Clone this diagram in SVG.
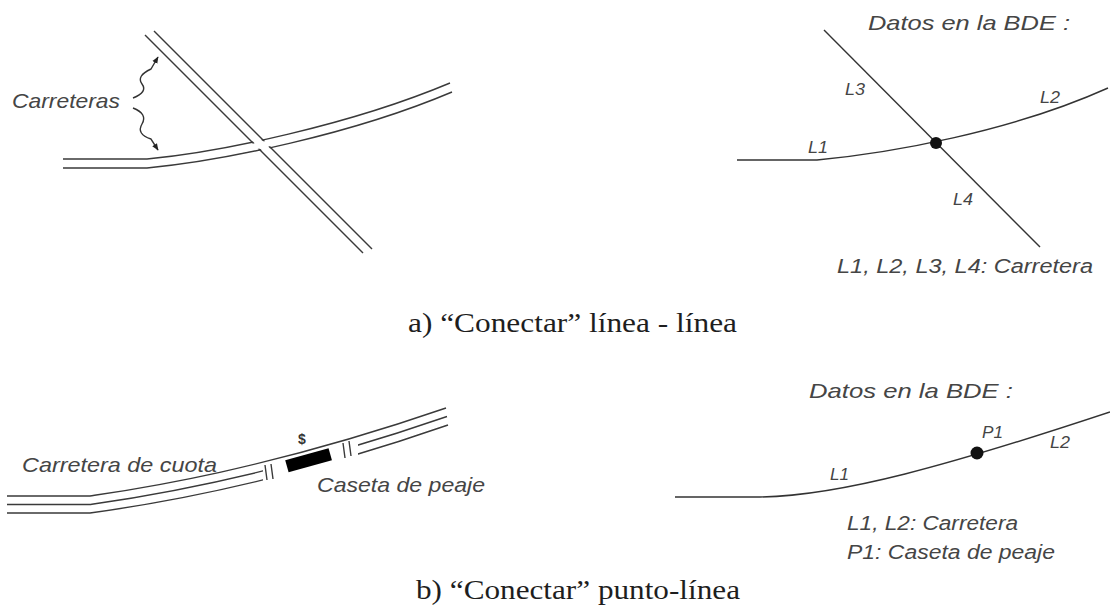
<svg xmlns="http://www.w3.org/2000/svg" width="1110" height="610" viewBox="0 0 1110 610">
  <style>
    .road { fill: none; stroke: #3a3a3a; stroke-width: 1.4; }
    .thin { fill: none; stroke: #333; stroke-width: 1.4; }
    .cut { fill: none; stroke: #fff; }
    .lbl { font-family: "Liberation Sans", Arial, sans-serif; font-style: italic; fill: #454545; }
    .cap { font-family: "Liberation Serif", "Times New Roman", serif; fill: #1e1e1e; font-size: 27px; }
  </style>
  <defs>
    <marker id="ah" viewBox="0 0 10 10" refX="9" refY="5" markerWidth="7" markerHeight="7" orient="auto" markerUnits="userSpaceOnUse">
      <path d="M0,1 L10,5 L0,9 Z" fill="#222"/>
    </marker>
    <clipPath id="crossClip"><rect x="238" y="120" width="55" height="45"/></clipPath>
    <clipPath id="gapClip">
      <rect x="0" y="380" width="263" height="150"/>
      <rect x="358" y="380" width="200" height="150"/>
    </clipPath>
  </defs>
  <rect width="1110" height="610" fill="#fff"/>

  <!-- a) left: roads -->
  <g id="roads-a">
    <path class="road" d="M63,159 L147,159 C220,152 350,125 450,83"/>
    <path class="road" d="M63,168 L147,168 C222,161 353,134 452,92"/>
    <path class="cut" stroke-width="7" d="M149.5,33 L367.5,251"/>
    <path class="road" d="M145,35 L363,253"/>
    <path class="road" d="M154,31 L372,249"/>
    <path class="cut" stroke-width="6" clip-path="url(#crossClip)" d="M63,163.5 L147,163.5 C221,156.5 351.5,129.5 451,87.5"/>
  </g>
  <g id="label-carreteras">
    <text class="lbl" x="12" y="108" font-size="21" textLength="108" lengthAdjust="spacingAndGlyphs">Carreteras</text>
  </g>
  <g id="connectors">
    <path class="thin" stroke-width="1.2" marker-end="url(#ah)" d="M133,98 Q148,92 142,84 T151,69 L158,57"/>
    <path class="thin" stroke-width="1.2" marker-end="url(#ah)" d="M133,108 Q148,114 142,124 T151,139 L158,150"/>
  </g>

  <!-- a) right: data -->
  <g id="bde-a">
    <text class="lbl" x="868" y="30" font-size="21" textLength="202" lengthAdjust="spacingAndGlyphs">Datos en la BDE :</text>
    <path class="thin" d="M824,30 L1040,247"/>
    <path class="thin" d="M737,160 L817,160 C890,153 1010,132 1108,88"/>
    <circle cx="936" cy="143" r="6" fill="#111"/>
    <text class="lbl" x="845" y="95" font-size="17" textLength="20" lengthAdjust="spacingAndGlyphs">L3</text>
    <text class="lbl" x="1040" y="103" font-size="17" textLength="20" lengthAdjust="spacingAndGlyphs">L2</text>
    <text class="lbl" x="808" y="153" font-size="17" textLength="20" lengthAdjust="spacingAndGlyphs">L1</text>
    <text class="lbl" x="953" y="205" font-size="17" textLength="20" lengthAdjust="spacingAndGlyphs">L4</text>
    <text class="lbl" x="837" y="273" font-size="20" textLength="256" lengthAdjust="spacingAndGlyphs">L1, L2, L3, L4: Carretera</text>
  </g>
  <g id="caption-a">
    <text class="cap" x="408" y="332" textLength="329" lengthAdjust="spacingAndGlyphs">a) “Conectar” línea - línea</text>
  </g>

  <!-- b) left: toll road -->
  <g id="toll-road">
    <path class="road" d="M7,496 L90,496 C130,490 260,472 446,408"/>
    <g clip-path="url(#gapClip)">
      <path class="road" d="M7,504.5 L90,504.5 C132,498.5 262,480.5 447,416.5"/>
      <path class="road" d="M7,513 L90,513 C134,507 264,489 448,425"/>
    </g>
    <path class="road" d="M265,465 L267,480 M271,464 L273,479"/>
    <path class="road" d="M343,443 L345,458 M349,441 L351,456"/>
  </g>
  <g id="booth">
    <rect x="286" y="454" width="45" height="12.5" fill="#000" transform="rotate(-15.6 308.5 460)"/>
    <text x="302" y="444" font-family="Liberation Sans, Arial, sans-serif" font-weight="bold" font-size="14" fill="#333" text-anchor="middle">$</text>
  </g>
  <g id="label-cuota">
    <text class="lbl" x="22" y="472" font-size="21" textLength="195" lengthAdjust="spacingAndGlyphs">Carretera de cuota</text>
  </g>
  <g id="label-caseta">
    <text class="lbl" x="317" y="492" font-size="21" textLength="168" lengthAdjust="spacingAndGlyphs">Caseta de peaje</text>
  </g>

  <!-- b) right: data -->
  <g id="bde-b">
    <text class="lbl" x="809" y="398" font-size="21" textLength="204" lengthAdjust="spacingAndGlyphs">Datos en la BDE :</text>
    <path class="thin" d="M675,497 L760,497 C840,496 950,465 1110,412"/>
    <circle cx="977" cy="453" r="6.5" fill="#111"/>
    <text class="lbl" x="830" y="480" font-size="17" textLength="19" lengthAdjust="spacingAndGlyphs">L1</text>
    <text class="lbl" x="982" y="438" font-size="17" textLength="21" lengthAdjust="spacingAndGlyphs">P1</text>
    <text class="lbl" x="1050" y="448" font-size="17" textLength="20" lengthAdjust="spacingAndGlyphs">L2</text>
    <text class="lbl" x="847" y="530" font-size="20" textLength="171" lengthAdjust="spacingAndGlyphs">L1, L2: Carretera</text>
    <text class="lbl" x="847" y="559" font-size="20" textLength="208" lengthAdjust="spacingAndGlyphs">P1: Caseta de peaje</text>
  </g>
  <g id="caption-b">
    <text class="cap" x="416" y="599" textLength="324" lengthAdjust="spacingAndGlyphs">b) “Conectar” punto-línea</text>
  </g>
</svg>
